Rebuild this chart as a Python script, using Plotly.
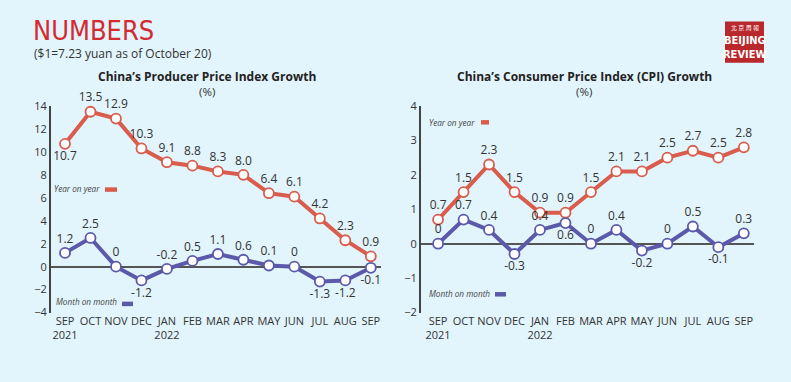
import plotly.graph_objects as go

W, H = 791, 382

months = ["SEP", "OCT", "NOV", "DEC", "JAN", "FEB", "MAR", "APR", "MAY", "JUN", "JUL", "AUG", "SEP"]
years = {0: "2021", 4: "2022"}

ppi_yoy = [10.7, 13.5, 12.9, 10.3, 9.1, 8.8, 8.3, 8.0, 6.4, 6.1, 4.2, 2.3, 0.9]
ppi_mom = [1.2, 2.5, 0, -1.2, -0.2, 0.5, 1.1, 0.6, 0.1, 0, -1.3, -1.2, -0.1]
cpi_yoy = [0.7, 1.5, 2.3, 1.5, 0.9, 0.9, 1.5, 2.1, 2.1, 2.5, 2.7, 2.5, 2.8]
cpi_mom = [0, 0.7, 0.4, -0.3, 0.4, 0.6, 0, 0.4, -0.2, 0, 0.5, -0.1, 0.3]

ppi_yoy_pos = ["bottom center"] + ["top center"] * 12
ppi_mom_pos = ["top center", "top center", "top center", "bottom center", "top center", "top center",
               "top center", "top center", "top center", "top center", "bottom center", "bottom center",
               "bottom center"]
cpi_yoy_pos = ["top center"] * 13
cpi_mom_pos = ["top center", "top center", "top center", "bottom center", "top center", "bottom center",
               "top center", "top center", "bottom center", "top center", "top center", "bottom center",
               "top center"]

RED = "#d95c4c"
BLUE = "#5b59aa"
BG = "#e2f4fc"
TXT = "#333333"
FONT = "Open Sans"
COND = "DejaVu Sans Condensed, Liberation Sans Narrow, Roboto, sans-serif"


def fmt(v):
    if v == 0:
        return "0"
    if v == 8.0:
        return "8.0"
    return "%g" % v


def px(x):
    return x / W


def py(y):
    return 1 - y / H


x_idx = list(range(len(months)))
ticktext = [m + ("<br>" + years[i] if i in years else "") for i, m in enumerate(months)]

fig = go.Figure()


def add_series(vals, pos, color, xa, ya):
    fig.add_trace(go.Scatter(
        x=x_idx, y=vals, mode="lines+markers+text",
        text=[fmt(v) for v in vals], textposition=pos,
        textfont=dict(family=FONT, size=12, color=TXT),
        line=dict(color=color, width=4),
        marker=dict(size=10, color="white", line=dict(color=color, width=1.8)),
        xaxis=xa, yaxis=ya, showlegend=False, cliponaxis=False, hoverinfo="skip"))


add_series(ppi_yoy, ppi_yoy_pos, RED, "x", "y")
add_series(ppi_mom, ppi_mom_pos, BLUE, "x", "y")
add_series(cpi_yoy, cpi_yoy_pos, RED, "x2", "y2")
add_series(cpi_mom, cpi_mom_pos, BLUE, "x2", "y2")

xcommon = dict(tickmode="array", tickvals=x_idx, ticktext=ticktext, showgrid=False, zeroline=False,
               showline=False, ticks="", tickfont=dict(family=FONT, size=11, color=TXT), ticklabelstandoff=0)
ycommon = dict(showgrid=False, showline=True, linecolor="#444444", linewidth=2, zeroline=True,
               zerolinecolor="#555555", zerolinewidth=1.5, ticks="",
               tickfont=dict(family=FONT, size=11, color=TXT))

fig.update_layout(
    width=W, height=H, margin=dict(l=0, r=0, t=0, b=0),
    paper_bgcolor=BG, plot_bgcolor=BG,
    xaxis=dict(domain=[px(51), px(381)], range=[-0.55, 12.4], anchor="y", **xcommon),
    yaxis=dict(domain=[py(317), py(102)], range=[-4, 14], anchor="x",
               tickvals=[-4, -2, 0, 2, 4, 6, 8, 10, 12, 14], **ycommon),
    xaxis2=dict(domain=[px(421), px(754)], range=[-0.67, 12.4], anchor="y2", **xcommon),
    yaxis2=dict(domain=[py(317), py(102)], range=[-2, 4], anchor="x2",
                tickvals=[-2, -1, 0, 1, 2, 3, 4], **ycommon),
)

ann = []


def note(x, y, text, font, xanchor="left"):
    ann.append(dict(x=px(x), y=py(y), xref="paper", yref="paper", text=text, showarrow=False,
                    xanchor=xanchor, yanchor="middle", font=font))


note(31, 23, "NUMBERS", dict(family=COND, size=27, color="#d42a32"))
note(32, 47, "($1=7.23 yuan as of October 20)", dict(family=FONT, size=12, color=TXT))
for cx, t in [(207, "China’s Producer Price Index Growth"), (584, "China’s Consumer Price Index (CPI) Growth")]:
    note(cx, 71, "<b>" + t + "</b>", dict(family=FONT, size=12, color="#222222"), "center")
    note(cx, 87, "(%)", dict(family=FONT, size=11.5, color=TXT), "center")

legends = [(52, 188, "Year on year", RED, 105, 117, 189),
           (54, 306, "Month on month", BLUE, 122, 133, 308),
           (427, 119, "Year on year", RED, 481, 489, 119),
           (427, 297, "Month on month", BLUE, 495, 506, 298)]
shapes = []
for lx, ly, lt, col, s0, s1, sy in legends:
    note(lx, ly, "<i>" + lt + "</i>", dict(family=FONT, size=8.2, color="#444444"))
    shapes.append(dict(type="line", xref="paper", yref="paper", x0=px(s0), x1=px(s1), y0=py(sy),
                       y1=py(sy), line=dict(color=col, width=4.5)))

# logo
shapes.append(dict(type="rect", xref="paper", yref="paper", x0=px(725), x1=px(764), y0=py(14), y1=py(57),
                   fillcolor="#b8282c", line=dict(width=0)))
note(744.5, 20, "北 京 周 報", dict(family="Noto Sans CJK TC", size=6, color="white"), "center")
note(744.5, 34, "<b>BEIJING</b>", dict(family=COND, size=11, color="white"), "center")
note(744.5, 48, "<b>REVIEW</b>", dict(family=COND, size=11, color="white"), "center")

fig.update_layout(annotations=ann, shapes=shapes)
fig.write_html("out.html", config={"displayModeBar": False},
               post_script="document.body.style.margin='0';document.body.style.overflow='hidden';")
